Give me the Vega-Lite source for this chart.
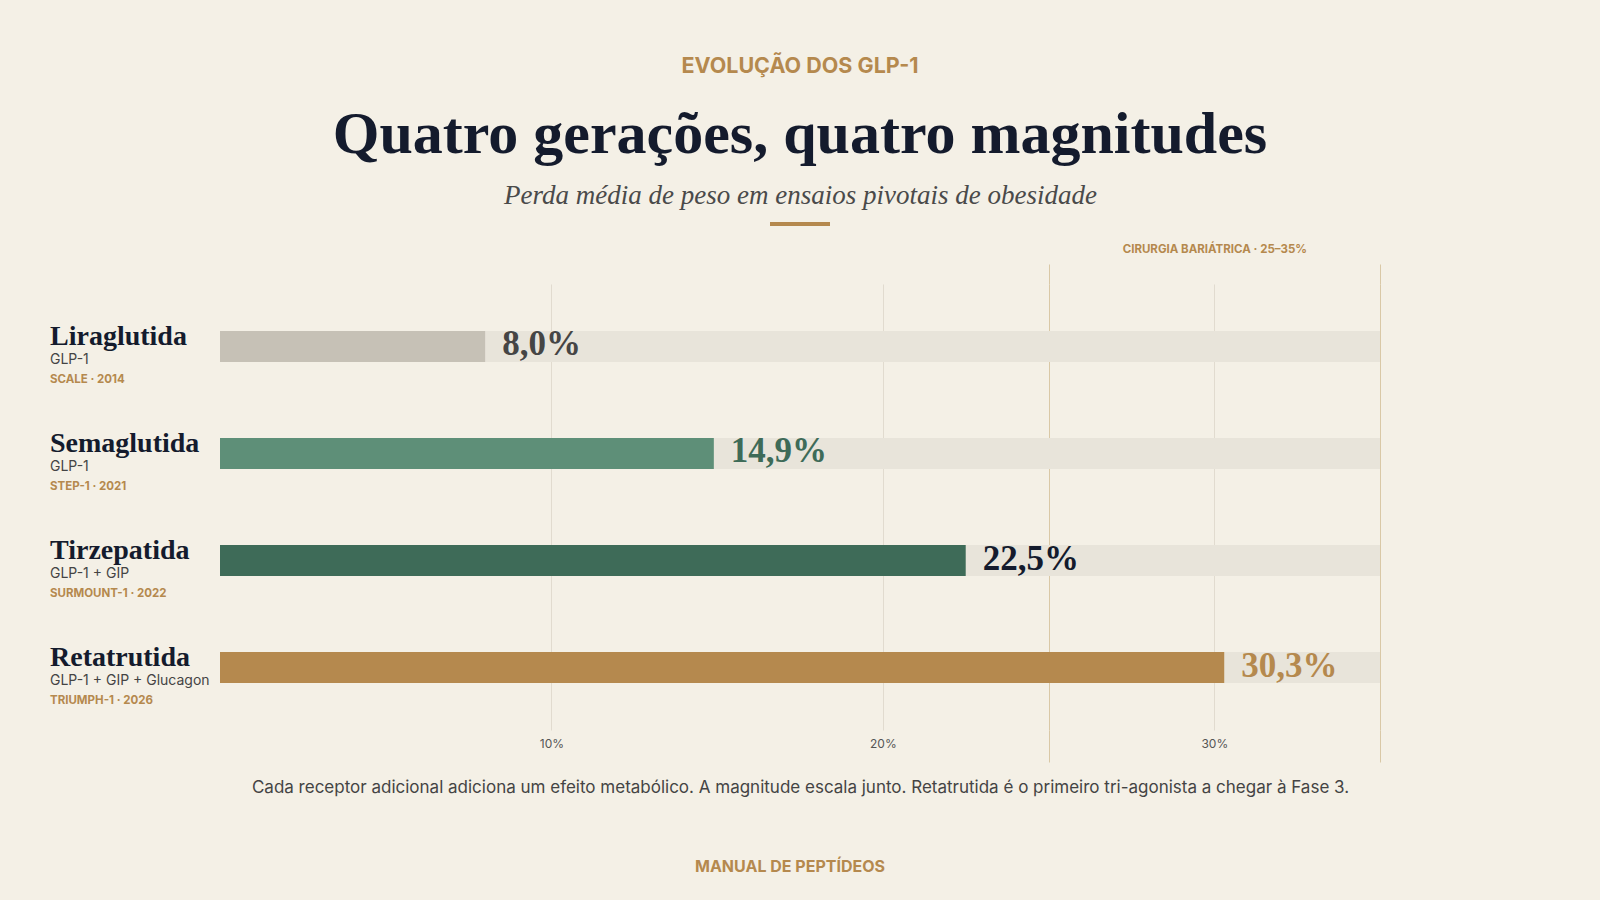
{
  "$schema": "https://vega.github.io/schema/vega-lite/v6.json",
  "background": "#F4F0E6",
  "padding": {"left": 50, "right": 220, "top": 55, "bottom": 30},
  "bounds": "flush",
  "center": true,
  "spacing": 58,
  "vconcat": [
    {
      "width": 60,
      "height": 4,
      "view": {"fill": "#B5894E", "stroke": null},
      "title": {
        "text": "EVOLUÇÃO DOS GLP-1",
        "subtitle": "Quatro gerações, quatro magnitudes",
        "anchor": "middle",
        "frame": "group",
        "font": "Inter",
        "fontSize": 21.5,
        "fontWeight": "bold",
        "color": "#B5894E",
        "subtitleFont": "Liberation Serif",
        "subtitleFontSize": 60,
        "subtitleFontWeight": "bold",
        "subtitleColor": "#141B2D",
        "subtitlePadding": 29,
        "offset": 16
      },
      "data": {"values": [{}]},
      "mark": {"type": "bar", "color": "#B5894E"},
      "encoding": {
        "x": {
          "datum": 0,
          "type": "quantitative",
          "scale": {"domain": [0, 1]},
          "axis": {
            "orient": "top",
            "labels": false,
            "ticks": false,
            "domain": false,
            "grid": false,
            "title": "Perda média de peso em ensaios pivotais de obesidade",
            "titleFont": "Liberation Serif",
            "titleFontStyle": "italic",
            "titleFontWeight": "normal",
            "titleFontSize": 27,
            "titleColor": "#4A4A4A",
            "titlePadding": 13
          }
        },
        "x2": {"datum": 1}
      }
    },
    {
      "width": 1160,
      "height": 446,
      "title": {
        "text": "MANUAL  DE  PEPTÍDEOS",
        "orient": "bottom",
        "anchor": "middle",
        "frame": "group",
        "dx": -10,
        "font": "Inter",
        "fontSize": 16,
        "fontWeight": "bold",
        "color": "#B5894E",
        "offset": 63
      },
      "data": {
        "values": [
          {"name": "Liraglutida", "class": "GLP-1", "trial": "SCALE · 2014", "value": 0.080},
          {"name": "Semaglutida", "class": "GLP-1", "trial": "STEP-1 · 2021", "value": 0.149},
          {"name": "Tirzepatida", "class": "GLP-1 + GIP", "trial": "SURMOUNT-1 · 2022", "value": 0.225},
          {"name": "Retatrutida", "class": "GLP-1 + GIP + Glucagon", "trial": "TRIUMPH-1 · 2026", "value": 0.303}
        ]
      },
      "encoding": {
        "y": {
          "field": "name",
          "type": "nominal",
          "sort": null,
          "axis": null,
          "scale": {"paddingInner": 0, "paddingOuter": 0.084}
        }
      },
      "layer": [
        {
          "mark": {"type": "bar", "height": 31, "color": "#E8E4DA"},
          "encoding": {
            "x": {"datum": 0, "type": "quantitative", "scale": {"domain": [0, 0.35], "nice": false}, "axis": null},
            "x2": {"datum": 0.35}
          }
        },
        {
          "mark": {"type": "bar", "height": 31},
          "encoding": {
            "x": {
              "field": "value",
              "type": "quantitative",
              "axis": {
                "orient": "bottom",
                "values": [0.1, 0.2, 0.25, 0.3, 0.35],
                "format": ".0%",
                "labelExpr": "datum.value == 0.25 || datum.value == 0.35 ? '' : datum.label",
                "domain": false,
                "grid": true,
                "gridColor": {"condition": {"test": "datum.value == 0.25 || datum.value == 0.35", "value": "#D9C8A6"}, "value": "#E1DBCF"},
                "gridWidth": 1,
                "ticks": true,
                "tickSize": 32,
                "tickColor": "#D9C8A6",
                "tickOpacity": {"condition": {"test": "datum.value == 0.25 || datum.value == 0.35", "value": 1}, "value": 0},
                "labelPadding": -24,
                "labelFont": "Inter",
                "labelFontSize": 12,
                "labelColor": "#555555",
                "labelOverlap": false,
                "labelFlush": false,
                "labelBound": false,
                "title": "Cada receptor adicional adiciona um efeito metabólico. A magnitude escala junto. Retatrutida é o primeiro tri-agonista a chegar à Fase 3.",
                "titleFont": "Inter",
                "titleFontSize": 17,
                "titleFontWeight": "normal",
                "titleColor": "#444444",
                "titlePadding": 17
              }
            },
            "color": {
              "field": "name",
              "type": "nominal",
              "legend": null,
              "scale": {
                "domain": ["Liraglutida", "Semaglutida", "Tirzepatida", "Retatrutida"],
                "range": ["#C6C1B6", "#5E8F78", "#3E6B58", "#B5894E"]
              }
            }
          }
        },
        {
          "mark": {"type": "text", "align": "left", "baseline": "alphabetic", "dx": 17, "dy": 9, "font": "Liberation Serif", "fontSize": 35, "fontWeight": "bold"},
          "encoding": {
            "x": {
              "field": "value",
              "type": "quantitative",
              "axis": {
                "orient": "top",
                "values": [0.25, 0.3, 0.35],
                "labelExpr": "datum.value == 0.3 ? 'CIRURGIA BARIÁTRICA · 25–35%' : ''",
                "domain": false,
                "grid": false,
                "ticks": true,
                "tickSize": 20,
                "tickColor": "#D9C8A6",
                "tickOpacity": {"condition": {"test": "datum.value == 0.3", "value": 0}, "value": 1},
                "labelPadding": 10,
                "labelLimit": 0,
                "labelFont": "Inter",
                "labelFontSize": 11.5,
                "labelFontWeight": "bold",
                "labelColor": "#B5894E",
                "labelOverlap": false,
                "labelFlush": false,
                "labelBound": false,
                "title": null
              }
            },
            "text": {"field": "value", "format": ".1%"},
            "color": {
              "field": "name",
              "type": "nominal",
              "legend": null,
              "scale": {
                "domain": ["Liraglutida", "Semaglutida", "Tirzepatida", "Retatrutida"],
                "range": ["#454545", "#3E6B58", "#141B2D", "#B5894E"]
              }
            }
          }
        },
        {
          "mark": {"type": "text", "align": "left", "baseline": "alphabetic", "dx": -170, "dy": -1.5, "font": "Liberation Serif", "fontSize": 28, "fontWeight": "bold", "color": "#141B2D"},
          "encoding": {
            "x": {"datum": 0, "type": "quantitative", "axis": null},
            "text": {"field": "name"}
          }
        },
        {
          "mark": {"type": "text", "align": "left", "baseline": "alphabetic", "dx": -170, "dy": 17.5, "font": "Inter", "fontSize": 14, "color": "#444444"},
          "encoding": {
            "x": {"datum": 0, "type": "quantitative", "axis": null},
            "text": {"field": "class"}
          }
        },
        {
          "mark": {"type": "text", "align": "left", "baseline": "alphabetic", "dx": -170, "dy": 36.5, "font": "Inter", "fontSize": 11.5, "fontWeight": "bold", "color": "#B5894E"},
          "encoding": {
            "x": {"datum": 0, "type": "quantitative", "axis": null},
            "text": {"field": "trial"}
          }
        }
      ],
      "resolve": {"axis": {"x": "independent"}, "scale": {"color": "independent"}}
    }
  ],
  "config": {
    "view": {"stroke": null},
    "font": "Inter",
    "locale": {"number": {"decimal": ",", "thousands": ".", "grouping": [3], "currency": ["R$", ""]}}
  }
}
